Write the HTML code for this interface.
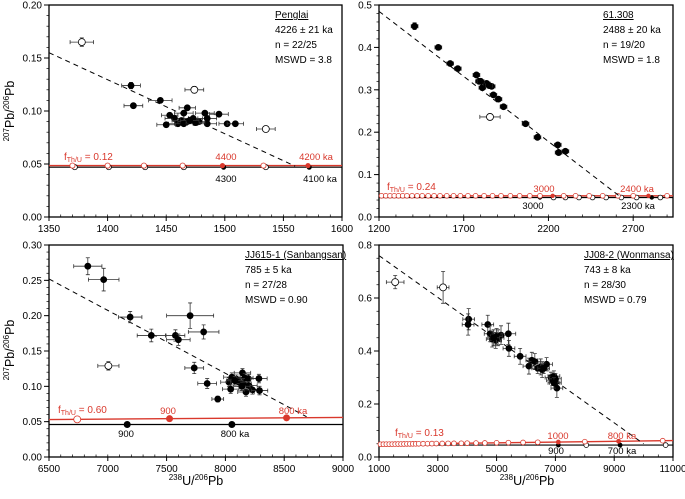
<!DOCTYPE html>
<html><head><meta charset="utf-8"><style>
body{margin:0;background:#fff}
svg{display:block;font-family:"Liberation Sans",Arial,sans-serif}
</style></head><body>
<svg id="c" width="685" height="499" viewBox="0 0 685 499" xmlns="http://www.w3.org/2000/svg"></svg>
<script>
// Panel 1: Penglai
const p1X=[1420,1422,1445,1453,1457,1460,1465,1468,1463,1468,1473,1478,1483,1485,1485,1495,1502,1509,1450,1465,1475,1470];
const p1Y=[0.124,0.105,0.110,0.096,0.093,0.088,0.098,0.103,0.091,0.090,0.093,0.090,0.098,0.093,0.088,0.097,0.088,0.088,0.087,0.088,0.089,0.091];
const p1Xe=[8,8,10,7,8,8,8,7,8,8,8,8,8,8,8,8,7,7,8,8,8,8];
const p1Ye=[0.003,0.002,0.002,0.002,0.002,0.002,0.002,0.002,0.002,0.002,0.002,0.002,0.002,0.002,0.002,0.002,0.002,0.002,0.002,0.002,0.002,0.002];
const p1OX=[1378,1474,1535], p1OY=[0.165,0.120,0.083], p1OXe=[10,8,8], p1OYe=[0.004,0.003,0.002];
const p1Line=[[1350,0.155],[1560,0.048]];
const p1RedOpen=[1370,1400,1431,1464,1533], p1RedFill=[1498,1571];
const p1BlkOpen=[1372,1401,1432,1465,1535], p1BlkFill=[1499,1572];
// Panel 2: 61.308
const p2X=[1410,1550,1620,1665,1775,1790,1810,1835,1865,1875,1905,1935,2065,2135,2255,2260,2300,1800,1850];
const p2Y=[0.45,0.40,0.362,0.35,0.335,0.32,0.305,0.315,0.308,0.288,0.278,0.26,0.22,0.188,0.17,0.152,0.155,0.32,0.31];
const p2Xe=[20,20,20,20,20,20,20,20,20,20,20,20,20,20,20,20,20,20,20];
const p2Ye=[0.008,0.006,0.005,0.005,0.005,0.005,0.005,0.005,0.005,0.005,0.005,0.005,0.005,0.005,0.005,0.005,0.005,0.005,0.005];
const p2OX=[1855], p2OY=[0.236], p2OXe=[60], p2OYe=[0.005];
const p2Line=[[1200,0.485],[2617,0.05]];
const p2RedOpen=[1215,1240,1265,1290,1315,1340,1365,1395,1425,1455,1490,1525,1560,1600,1640,1680,1725,1770,1820,1870,1920,1975,2030,2090,2150,2290,2360,2440,2520,2610,2700,2900], p2RedFill=[2225,2790];
const p2BlkOpen=[2230,2300,2380,2460,2540,2630,2720,2860], p2BlkFill=[2150,2810];
// Panel 3: JJ615-1
const p3X=[6830,6965,7190,7370,7575,7600,7700,7815,7735,7845,7935,8030,8055,8045,8095,8115,8145,8150,8165,8175,8195,8200,8230,8285,8290,8140,8080];
const p3Y=[0.27,0.251,0.198,0.172,0.172,0.166,0.200,0.177,0.126,0.104,0.082,0.106,0.113,0.096,0.110,0.106,0.119,0.104,0.112,0.092,0.111,0.101,0.095,0.111,0.094,0.100,0.108];
const p3Xe=[120,130,100,120,80,100,200,130,80,80,50,70,70,70,70,70,70,70,70,70,70,70,70,70,70,70,70];
const p3Ye=[0.012,0.016,0.008,0.009,0.008,0.008,0.018,0.01,0.008,0.007,0.004,0.006,0.006,0.006,0.006,0.006,0.006,0.006,0.006,0.006,0.006,0.006,0.006,0.006,0.006,0.006,0.006];
const p3OX=[7005], p3OY=[0.129], p3OXe=[90], p3OYe=[0.006];
const p3Line=[[6500,0.252],[8690,0.057]];
const p3RedOpen=[6740], p3RedFill=[7525,8520];
const p3BlkOpen=[], p3BlkFill=[7165,8055];
// Panel 4: JJ08-2
const p4X=[4050,4030,4700,4780,4850,4970,5050,5150,5400,5420,5800,6100,6200,6300,6500,6550,6700,6850,6900,6950,7000,7050,7000,6950,6400,5000,4900,6600];
const p4Y=[0.52,0.50,0.50,0.465,0.445,0.44,0.45,0.46,0.465,0.41,0.38,0.343,0.365,0.36,0.34,0.33,0.35,0.30,0.29,0.305,0.28,0.26,0.295,0.28,0.335,0.455,0.45,0.335];
const p4Xe=[200,200,200,200,200,200,200,200,250,200,200,200,200,200,200,200,200,200,200,200,200,200,200,200,200,200,200,200];
const p4Ye=[0.04,0.04,0.035,0.03,0.03,0.03,0.03,0.035,0.04,0.03,0.03,0.03,0.03,0.03,0.03,0.03,0.025,0.02,0.02,0.02,0.02,0.035,0.02,0.02,0.02,0.03,0.03,0.02];
const p4OX=[1550,3180], p4OY=[0.66,0.64], p4OXe=[300,200], p4OYe=[0.025,0.06];
const p4Line=[[1000,0.76],[10000,0.05]];
const p4RedOpen=[1050,1150,1250,1350,1450,1550,1650,1750,1850,1950,2050,2150,2250,2350,2500,2650,2800,2950,3150,3350,3550,3800,4000,4300,4600,5000,5400,5900,6400,8000,10650], p4RedFill=[7100,9150];
const p4BlkOpen=[8050,10750], p4BlkFill=[7100,9200];

const NS='http://www.w3.org/2000/svg';
const svg=document.getElementById('c');
function mk(tag,attrs,parent){const e=document.createElementNS(NS,tag);for(const k in attrs)e.setAttribute(k,attrs[k]);(parent||svg).appendChild(e);return e;}

function panel(P){
  const g=mk('g',{});
  
  
  const sx=v=>P.px[0]+(v-P.xr[0])/(P.xr[1]-P.xr[0])*(P.px[1]-P.px[0]);
  const sy=v=>P.py[1]-(v-P.yr[0])/(P.yr[1]-P.yr[0])*(P.py[1]-P.py[0]);
  // frame
  const fr=mk('rect',{x:P.px[0],y:P.py[0],width:P.px[1]-P.px[0],height:P.py[1]-P.py[0],fill:'none',stroke:'#000','stroke-width':1.3},g);
  
  
  // minor ticks
  for(let v=P.xr[0];v<=P.xr[1]+1e-9;v+=P.xm){const x=sx(v);mk('line',{x1:x,x2:x,y1:P.py[1],y2:P.py[1]-2.5,stroke:'#000','stroke-width':0.7},g);}
  for(let v=P.yr[0];v<=P.yr[1]+1e-9;v+=P.ym){const y=sy(v);mk('line',{x1:P.px[0],x2:P.px[0]-2.5,y1:y,y2:y,stroke:'#000','stroke-width':0.7},g);}
  P.xt.forEach(v=>{const x=sx(v);mk('line',{x1:x,x2:x,y1:P.py[1],y2:P.py[1]+4,stroke:'#000','stroke-width':1},g);
    const t=mk('text',{x:x,y:P.py[1]+15,'font-size':10,'text-anchor':'middle'},g);t.textContent=v;
    
    });
  P.yt.forEach(v=>{const y=sy(v);mk('line',{x1:P.px[0],x2:P.px[0]-5,y1:y,y2:y,stroke:'#000','stroke-width':1},g);
    const t=mk('text',{x:P.px[0]-7,y:y+3.5,'font-size':10,'text-anchor':'end'},g);t.textContent=v.toFixed(P.yd);
    
    });
  // concordia lines
  const bl=mk('line',{x1:P.px[0],x2:P.px[1],y1:sy(P.bY[0]),y2:sy(P.bY[1]),stroke:'#000','stroke-width':1.2},g);
  
  
  const rl=mk('line',{x1:P.px[0],x2:P.px[1],y1:sy(P.rY[0]),y2:sy(P.rY[1]),stroke:'#d9382c','stroke-width':1.4},g);
  
  
  const lineY=(Y,x)=>Y[0]+(Y[1]-Y[0])*(x-P.xr[0])/(P.xr[1]-P.xr[0]);
  P.bo.forEach(x=>{const c=mk('circle',{cx:sx(x),cy:sy(lineY(P.bY,x)),r:P.cr,fill:'#fff',stroke:'#000','stroke-width':0.8},g);
    
    });
  P.bf.forEach(x=>{const c=mk('circle',{cx:sx(x),cy:sy(lineY(P.bY,x)),r:P.cfr,fill:'#000'},g);
    
    });
  P.ro.forEach(x=>{const c=mk('circle',{cx:sx(x),cy:sy(lineY(P.rY,x)),r:P.cr,fill:'#fff',stroke:'#d9382c','stroke-width':0.8},g);
    
    });
  P.rf.forEach(x=>{const c=mk('circle',{cx:sx(x),cy:sy(lineY(P.rY,x)),r:P.cfr,fill:'#d9382c'},g);
    
    });
  // regression
  const dl=mk('line',{x1:sx(P.line[0][0]),y1:sy(P.line[0][1]),x2:sx(P.line[1][0]),y2:sy(P.line[1][1]),stroke:'#000','stroke-width':1,'stroke-dasharray':'5,4'},g);
  
  
  // points
  function pts(X,Y,Xe,Ye,open){
    X.forEach((x,i)=>{const cx=sx(x),cy=sy(Y[i]);
      const x1=sx(x-Xe[i]),x2=sx(x+Xe[i]),y1=sy(Y[i]+Ye[i]),y2=sy(Y[i]-Ye[i]);
      const eb=mk('path',{d:`M${x1},${cy}H${x2}M${x1},${cy-2}V${cy+2}M${x2},${cy-2}V${cy+2}M${cx},${y1}V${y2}M${cx-2},${y1}H${cx+2}M${cx-2},${y2}H${cx+2}`,stroke:'#333','stroke-width':0.8,fill:'none'},g);
      
      
      const c=mk('circle',{cx:cx,cy:cy,r:open?3.5:3,fill:open?'#fff':'#000',stroke:'#000','stroke-width':0.8},g);
      
      });
  }
  pts(P.X,P.Y,P.Xe,P.Ye,false);
  pts(P.OX,P.OY,P.OXe,P.OYe,true);
  // labels
  P.lab.forEach(l=>{const t=mk('text',{x:l[0],y:l[1],'font-size':9.5,fill:l[3],'text-anchor':'middle'},g);t.textContent=l[2];
    
    });
  const f=mk('text',{x:P.f[0],y:P.f[1],'font-size':10,fill:'#d9382c'},g);
  f.innerHTML='f<tspan font-size="7" dy="2">Th/U</tspan><tspan dy="-2"> = '+P.f[2]+'</tspan>';
  
  
  P.info.forEach((s,i)=>{const t=mk('text',{x:P.ix,y:P.iy+i*15,'font-size':10,'text-decoration':i==0?'underline':'none'},g);t.textContent=s;
    
    });
}
const R='#d9382c',K='#000';
panel({name:'penglai',px:[49,342],py:[5,217],xr:[1350,1600],yr:[0,0.2],xt:[1350,1400,1450,1500,1550,1600],yt:[0,0.05,0.1,0.15,0.2],yd:2,xm:10,ym:0.01,
 X:p1X,Y:p1Y,Xe:p1Xe,Ye:p1Ye,OX:p1OX,OY:p1OY,OXe:p1OXe,OYe:p1OYe,line:p1Line,bY:[0.047,0.047],rY:[0.0485,0.0485],
 bo:p1BlkOpen,bf:p1BlkFill,ro:p1RedOpen,rf:p1RedFill,cr:2.6,cfr:2.6,
 lab:[[226,160,'4400',R],[316,160,'4200 ka',R],[226,182,'4300',K],[320,182,'4100 ka',K]],f:[64,160,'0.12'],
 ix:275,iy:18,info:['Penglai','4226 ± 21 ka','n = 22/25','MSWD = 3.8']});
panel({name:'61308',px:[379,673],py:[5,217],xr:[1200,2935],yr:[0,0.5],xt:[1200,1700,2200,2700],yt:[0,0.1,0.2,0.3,0.4,0.5],yd:1,xm:100,ym:0.02,
 X:p2X,Y:p2Y,Xe:p2Xe,Ye:p2Ye,OX:p2OX,OY:p2OY,OXe:p2OXe,OYe:p2OYe,line:p2Line,bY:[0.046,0.046],rY:[0.05,0.05],
 bo:p2BlkOpen,bf:p2BlkFill,ro:p2RedOpen,rf:p2RedFill,cr:2.4,cfr:2.2,
 lab:[[544,192,'3000',R],[637,192,'2400 ka',R],[533,209,'3000',K],[638,209,'2300 ka',K]],f:[387,190,'0.24'],
 ix:603,iy:18,info:['61.308','2488 ± 20 ka','n = 19/20','MSWD = 1.8']});
panel({name:'jj615-1',px:[49,343],py:[245,457],xr:[6500,9000],yr:[0,0.3],xt:[6500,7000,7500,8000,8500,9000],yt:[0,0.05,0.1,0.15,0.2,0.25,0.3],yd:2,xm:100,ym:0.01,
 X:p3X,Y:p3Y,Xe:p3Xe,Ye:p3Ye,OX:p3OX,OY:p3OY,OXe:p3OXe,OYe:p3OYe,line:p3Line,bY:[0.046,0.046],rY:[0.053,0.056],
 bo:p3BlkOpen,bf:p3BlkFill,ro:p3RedOpen,rf:p3RedFill,cr:3.5,cfr:3.5,
 lab:[[168,414,'900',R],[293,414,'800 ka',R],[126,437,'900',K],[235,437,'800 ka',K]],f:[58,413,'0.60'],
 ix:245,iy:258,info:['JJ615-1 (Sanbangsan)','785 ± 5 ka','n = 27/28','MSWD = 0.90']});
panel({name:'jj08-2',px:[379,673],py:[245,457],xr:[1000,11000],yr:[0,0.8],xt:[1000,3000,5000,7000,9000,11000],yt:[0,0.2,0.4,0.6,0.8],yd:1,xm:500,ym:0.05,
 X:p4X,Y:p4Y,Xe:p4Xe,Ye:p4Ye,OX:p4OX,OY:p4OY,OXe:p4OXe,OYe:p4OYe,line:p4Line,bY:[0.045,0.045],rY:[0.048,0.062],
 bo:p4BlkOpen,bf:p4BlkFill,ro:p4RedOpen,rf:p4RedFill,cr:2.4,cfr:2.4,
 lab:[[558,439,'1000',R],[622,439,'800 ka',R],[556,454,'900',K],[622,454,'700 ka',K]],f:[395,436,'0.13'],
 ix:584,iy:258,info:['JJ08-2 (Wonmansa)','743 ± 8 ka','n = 28/30','MSWD = 0.79']});
// axis titles
function ytitle(x,y,name){const t=mk('text',{transform:`translate(${x},${y}) rotate(-90)`,'font-size':12.5,'text-anchor':'middle'});
 t.innerHTML='<tspan font-size="8" dy="-5">207</tspan><tspan dy="5">Pb/</tspan><tspan font-size="8" dy="-5">206</tspan><tspan dy="5">Pb</tspan>';
 
 }
function xtitle(x,y,name){const t=mk('text',{x:x,y:y,'font-size':12.5,'text-anchor':'middle'});
 t.innerHTML='<tspan font-size="8" dy="-5">238</tspan><tspan dy="5">U/</tspan><tspan font-size="8" dy="-5">206</tspan><tspan dy="5">Pb</tspan>';
 
 }
ytitle(14,111,'y-axis-title-top');
ytitle(14,350,'y-axis-title-bottom');
xtitle(196,485,'x-axis-title-left');
xtitle(527,485,'x-axis-title-right');
</script>
</body></html>
